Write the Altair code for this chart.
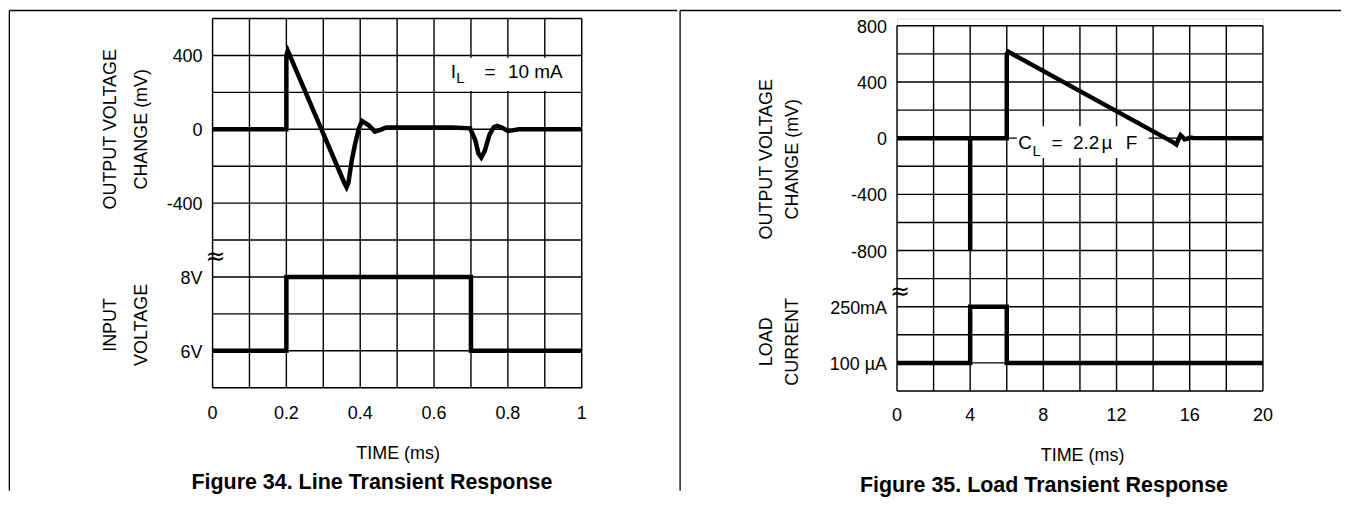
import altair as alt
import pandas as pd

FONT = "Liberation Sans"
FONT_B = "Liberation Sans"

# ---------------- Figure 34: Line Transient Response ----------------
# output voltage change (mV) vs time (ms)
t34_out = [0.0, 0.2, 0.2, 0.204, 0.358, 0.363, 0.368, 0.377, 0.386, 0.397, 0.405, 0.424,
           0.44, 0.456, 0.471, 0.55, 0.65, 0.698, 0.712, 0.72, 0.728, 0.737, 0.75, 0.762,
           0.771, 0.785, 0.80, 0.812, 0.83, 1.0]
v34_out = [0, 0, 400, 425, -295, -314, -290, -170, -81, 9, 45, 20,
           -13, -2, 10, 10, 10, 5, -60, -130, -153, -120, -30, 12,
           18, 8, -9, -6, 0, 0]
# input voltage (V) vs time (ms)
t34_in = [0.0, 0.2, 0.2, 0.7, 0.7, 1.0]
v34_in = [6, 6, 8, 8, 6, 6]

x34_ticks = [0, 0.2, 0.4, 0.6, 0.8, 1.0]
x34_labels = ["0", "0.2", "0.4", "0.6", "0.8", "1"]
y34_ticks = [400, 0, -400, -800, -1200]
y34_labels = ["400", "0", "-400", "8V", "6V"]
x34_grid = [0, 0.1, 0.2, 0.3, 0.4, 0.5, 0.6, 0.7, 0.8, 0.9, 1.0]
y34_grid = [600, 400, 200, 0, -200, -400, -600, -800, -1000, -1200, -1400]

# ---------------- Figure 35: Load Transient Response ----------------
t35_out = [0, 4, 4, 4, 6, 6, 6.08, 15.1, 15.27, 15.4, 15.5, 15.6, 15.72, 15.85, 16.0, 16.2, 20]
v35_out = [0, 0, -800, 0, 0, 600, 615, -30, -45, -5, 22, 10, -8, -5, 4, 2, 0]
t35_in = [0, 4, 4, 6, 6, 20]
i35_in = [0.1, 0.1, 250, 250, 0.1, 0.1]   # load current, mA

x35_ticks = [0, 4, 8, 12, 16, 20]
x35_labels = ["0", "4", "8", "12", "16", "20"]
y35_ticks = [800, 400, 0, -400, -800, -1200, -1600]
y35_labels = ["800", "400", "0", "-400", "-800", "250mA", "100 µA"]
x35_grid = [0, 2, 4, 6, 8, 10, 12, 14, 16, 18, 20]
y35_grid = [800, 600, 400, 200, 0, -200, -400, -600, -800, -1000, -1200, -1400, -1600, -1800]


def panel(cfg):
    xs = alt.Scale(domain=cfg["xdom"], nice=False, zero=False)
    ys = alt.Scale(domain=cfg["ydom"], nice=False, zero=False)
    w, h = cfg["w"], cfg["h"]
    X = lambda f: alt.X(f, type="quantitative", scale=xs, axis=None)
    Y = lambda f: alt.Y(f, type="quantitative", scale=ys, axis=None)
    layers = []

    # grid (including the plot border)
    layers.append(alt.Chart(pd.DataFrame({"x": cfg["xgrid"]})).mark_rule(
        color="black", strokeWidth=1.4).encode(
        x=X("x"), y=alt.value(cfg["gtop"]), y2=alt.value(h)))
    layers.append(alt.Chart(pd.DataFrame({"y": cfg["ygrid"]})).mark_rule(
        color="black", strokeWidth=1.4).encode(
        y=Y("y"), x=alt.value(0), x2=alt.value(w)))

    # white annotation box
    layers.append(alt.Chart(pd.DataFrame([cfg["box"]])).mark_rect(fill="white").encode(
        x=X("x1"), x2="x2", y=Y("y1"), y2="y2"))

    # traces
    for df in cfg["traces"]:
        layers.append(alt.Chart(df).mark_line(color="black", strokeWidth=4.5).encode(
            x=X("t"), y=Y("v"), order=alt.Order("i:Q")))

    # tick labels
    layers.append(alt.Chart(pd.DataFrame({"x": cfg["xticks"], "text": cfg["xlabels"]}))
                  .mark_text(font=FONT, fontSize=18, align="center", baseline="middle",
                             color="black")
                  .encode(x=X("x"), y=alt.value(h + cfg["xpad"]), text="text:N"))
    layers.append(alt.Chart(pd.DataFrame({"y": cfg["yticks"], "text": cfg["ylabels"]}))
                  .mark_text(font=FONT, fontSize=18, align="right", baseline="middle",
                             color="black", dy=2)
                  .encode(y=Y("y"), x=alt.value(-cfg["ypad"]), text="text:N"))

    # annotation text
    layers.append(alt.Chart(pd.DataFrame(cfg["notes"])).mark_text(
        font=FONT, align="left", baseline="middle", color="black").encode(
        x=X("x"), y=Y("y"), text="text:N",
        size=alt.Size("size:Q", scale=None, legend=None)))

    # rotated axis titles
    for t in cfg["ytitles"]:
        layers.append(alt.Chart(pd.DataFrame({"y": [t["y"]], "text": [t["text"]]}))
                      .mark_text(font=FONT, fontSize=18, angle=270, align="center",
                                 baseline="middle", color="black")
                      .encode(x=alt.value(t["px"]), y=Y("y"), text="text:N"))

    # axis break symbol
    layers.append(alt.Chart(pd.DataFrame({"y": [cfg["tilde_y"]]})).mark_text(
        font="DejaVu Sans", fontSize=24, text="≈", color="black", baseline="middle",
        dy=-1).encode(x=alt.value(3), y=Y("y")))

    layers.append(alt.Chart(pd.DataFrame({"text": ["TIME (ms)"]})).mark_text(
        font=FONT, fontSize=18, align="center", baseline="middle", color="black").encode(
        x=alt.value(cfg["time_xy"][0]), y=alt.value(cfg["time_xy"][1]), text="text:N"))

    layers.append(alt.Chart(pd.DataFrame({"text": [cfg["title"]]})).mark_text(
        font=FONT_B, fontSize=21.5, fontWeight="bold", align="center", baseline="middle",
        color="black").encode(
        x=alt.value(cfg["title_xy"][0]), y=alt.value(cfg["title_xy"][1]), text="text:N"))

    # panel frame
    fl, fr, ft, fb = cfg["frame"]
    one = pd.DataFrame({"a": [0]})
    layers.append(alt.Chart(one).mark_rule(color="black", strokeWidth=1.3).encode(
        x=alt.value(fl), x2=alt.value(fr), y=alt.value(ft)))
    layers.append(alt.Chart(one).mark_rule(color="black", strokeWidth=1.3).encode(
        x=alt.value(fl), y=alt.value(ft), y2=alt.value(fb)))

    return alt.layer(*layers).properties(width=w, height=h)


# ---- Figure 34 layout ----
df34_out = pd.DataFrame({"t": t34_out, "v": v34_out, "i": range(len(t34_out))})
df34_in = pd.DataFrame({"t": t34_in, "v": [-1200 + (v - 6) * 200 for v in v34_in],
                        "i": range(len(t34_in))})
cfg34 = dict(
    xdom=[0, 1], ydom=[-1400, 600], w=370, h=370, gtop=0,
    xgrid=x34_grid, ygrid=y34_grid, xticks=x34_ticks, xlabels=x34_labels,
    yticks=y34_ticks, ylabels=y34_labels, xpad=26, ypad=10,
    box={"x1": 0.635, "x2": 0.996, "y1": 388, "y2": 208},
    traces=[df34_out, df34_in],
    notes=[{"text": "I", "x": 0.645, "y": 312, "size": 19},
           {"text": "L", "x": 0.66, "y": 276, "size": 15},
           {"text": "=", "x": 0.737, "y": 312, "size": 19},
           {"text": "10 mA", "x": 0.80, "y": 312, "size": 19}],
    ytitles=[{"text": "OUTPUT VOLTAGE", "px": -101.7, "y": 0},
             {"text": "CHANGE (mV)", "px": -71, "y": 0},
             {"text": "INPUT", "px": -101.7, "y": -1060},
             {"text": "VOLTAGE", "px": -71, "y": -1060}],
    tilde_y=-700, time_xy=(186, 436.3), title="Figure 34. Line Transient Response",
    title_xy=(159.7, 465.3), frame=(-203.65, 465.7, -8.05, 473.3))

# ---- Figure 35 layout ----  (grid starts 7.3 px below the shared plot top)
cur_pos = {0.1: -1600, 250: -1200}
df35_out = pd.DataFrame({"t": t35_out, "v": v35_out, "i": range(len(t35_out))})
df35_in = pd.DataFrame({"t": t35_in, "v": [cur_pos[c] for c in i35_in],
                        "i": range(len(t35_in))})
row35 = 366 / 13.0
cfg35 = dict(
    xdom=[0, 20], ydom=[-1800, 800 + 7.3 / row35 * 200], w=366.7, h=373.3, gtop=7.3,
    xgrid=x35_grid, ygrid=y35_grid, xticks=x35_ticks, xlabels=x35_labels,
    yticks=y35_ticks, ylabels=y35_labels, xpad=25, ypad=10,
    box={"x1": 6.55, "x2": 13.75, "y1": 85, "y2": -142},
    traces=[df35_out, df35_in],
    notes=[{"text": "C", "x": 6.63, "y": -35, "size": 19},
           {"text": "L", "x": 7.4, "y": -92, "size": 15},
           {"text": "=", "x": 8.45, "y": -35, "size": 19},
           {"text": "2.2", "x": 9.62, "y": -35, "size": 19},
           {"text": "µ", "x": 11.18, "y": -35, "size": 19},
           {"text": "F", "x": 12.5, "y": -35, "size": 19}],
    ytitles=[{"text": "OUTPUT VOLTAGE", "px": -130.3, "y": -150},
             {"text": "CHANGE (mV)", "px": -104.7, "y": -150},
             {"text": "LOAD", "px": -130.3, "y": -1450},
             {"text": "CURRENT", "px": -104.7, "y": -1450}],
    tilde_y=-1100, time_xy=(186, 438.3), title="Figure 35. Load Transient Response",
    title_xy=(147.3, 468.3), frame=(-217.4, 445.0, -8.05, 473.3))

chart = alt.hconcat(panel(cfg34), panel(cfg35), spacing=0).properties(
    padding=0).configure_view(strokeWidth=0).configure(background="white")

chart.save("out.html", embed_options={"renderer": "svg", "actions": False})
